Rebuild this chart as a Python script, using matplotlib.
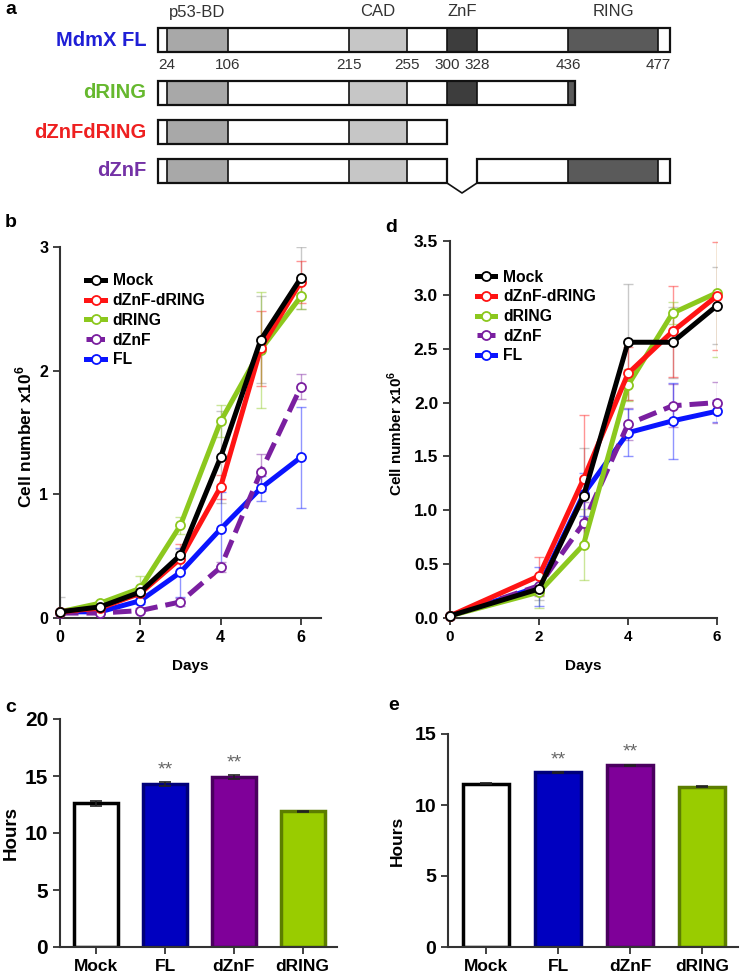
import numpy as np
import matplotlib
matplotlib.use('Agg')
from matplotlib import pyplot as plt
from matplotlib.patches import Rectangle

plt.rcParams['font.family'] = ['Liberation Sans', 'DejaVu Sans']
plt.rcParams['mathtext.fontset'] = 'custom'
plt.rcParams['mathtext.rm'] = 'Liberation Sans'
plt.rcParams['mathtext.bf'] = 'Liberation Sans:bold'

# ---- panel a: domain map ----
domain_names = ['p53-BD', 'CAD', 'ZnF', 'RING']
domain_res = [(24, 106), (215, 255), (300, 328), (436, 477)]
domain_fill = ['#a8a8a8', '#c6c6c6', '#3d3d3d', '#5a5a5a']
boundary_res = [24, 106, 215, 255, 300, 328, 436, 477]
construct_names = ['MdmX FL', 'dRING', 'dZnFdRING', 'dZnF']
construct_colors = ['#1f1fd6', '#66b82e', '#ee2020', '#7432a6']
construct_parts = [[(1, 490)], [(1, 439)], [(1, 300)], [(1, 300), (328, 490)]]
# the schematic is not to scale: residue -> drawing position
res_marks = [1, 24, 106, 215, 255, 300, 328, 436, 477, 490]
draw_marks = [158, 167, 228, 349, 407, 447, 477, 568, 658, 670]

# ---- panels b, d: growth curves ----
series_names = ['Mock', 'dZnF-dRING', 'dRING', 'dZnF', 'FL']
days_b = [0, 1, 2, 3, 4, 5, 6]
vals_b = [
    [0.05, 0.09, 0.21, 0.51, 1.30, 2.25, 2.75],
    [0.05, 0.08, 0.20, 0.48, 1.06, 2.18, 2.72],
    [0.05, 0.12, 0.24, 0.75, 1.59, 2.17, 2.60],
    [0.04, 0.04, 0.06, 0.13, 0.41, 1.18, 1.87],
    [0.05, 0.05, 0.14, 0.37, 0.72, 1.05, 1.30],
]
errs_b = [
    [0.12, 0.02, 0.03, 0.05, 0.37, 0.35, 0.25],
    [0.02, 0.02, 0.03, 0.12, 0.10, 0.30, 0.17],
    [0.02, 0.02, 0.10, 0.07, 0.13, 0.47, 0.10],
    [0.01, 0.01, 0.02, 0.03, 0.04, 0.15, 0.10],
    [0.01, 0.01, 0.03, 0.20, 0.30, 0.10, 0.41],
]
days_d = [0, 2, 3, 4, 5, 6]
vals_d = [
    [0.02, 0.27, 1.13, 2.56, 2.56, 2.90],
    [0.02, 0.39, 1.29, 2.27, 2.66, 2.99],
    [0.02, 0.24, 0.68, 2.16, 2.83, 3.02],
    [0.02, 0.30, 0.88, 1.80, 1.97, 2.00],
    [0.02, 0.29, 1.15, 1.72, 1.83, 1.92],
]
errs_d = [
    [0.01, 0.10, 0.45, 0.54, 0.33, 0.36],
    [0.01, 0.18, 0.59, 0.25, 0.42, 0.50],
    [0.01, 0.15, 0.33, 0.15, 0.10, 0.60],
    [0.01, 0.10, 0.20, 0.15, 0.20, 0.19],
    [0.01, 0.18, 0.20, 0.22, 0.35, 0.10],
]
line_colors = ['#000000', '#ff1414', '#8cc81e', '#7a1fa0', '#0a14ff']
line_styles = ['-', '-', '-', '--', '-']
line_z = [6, 5, 4, 3, 2]

# ---- panels c, e: doubling time ----
bar_names = ['Mock', 'FL', 'dZnF', 'dRING']
hours_c = [12.6, 14.3, 14.9, 11.9]
err_c = [0.2, 0.15, 0.2, 0.05]
hours_e = [11.5, 12.3, 12.8, 11.3]
err_e = [0.02, 0.03, 0.05, 0.05]
signif = ['', '**', '**', '']
bar_fill = ['white', '#0000c0', '#7f0099', '#99cc00']
bar_edge = ['#000000', '#00007a', '#4a005e', '#5c7d00']

W, H = 740, 976


def box(l, r, t, b):
    return [l / W, 1 - b / H, (r - l) / W, (b - t) / H]


def to_draw(res):
    return np.interp(res, res_marks, draw_marks)


def style_axes(ax, xsize, ysize):
    for s in ['top', 'right']:
        ax.spines[s].set_visible(False)
    for s in ['left', 'bottom']:
        ax.spines[s].set_linewidth(1.5)
        ax.spines[s].set_color('#333333')
    ax.tick_params(direction='out', length=5, width=1.3, color='#333333')
    ax.tick_params(axis='x', labelsize=xsize)
    ax.tick_params(axis='y', labelsize=ysize)
    for lab in ax.get_xticklabels() + ax.get_yticklabels():
        lab.set_fontweight('bold')


def draw_growth(ax, days, vals, errs, ymax, yticks, fmt, xmax, xsize, ysize, lsize, leg_y):
    lines = []
    for i in range(len(series_names)):
        c = line_colors[i]
        ecol = '#888888' if i == 0 else c
        ax.errorbar(days, vals[i], yerr=errs[i], fmt='none', ecolor=ecol, alpha=0.45,
                    elinewidth=1, capsize=3.5, capthick=1, zorder=1)
        ln, = ax.plot(days, vals[i], color=c, lw=3.6, ls=line_styles[i], marker='o',
                      mfc='white', mec=c, ms=6.5, mew=1.3, zorder=line_z[i], clip_on=False)
        lines.append(ln)
    ax.set_xlim(0, xmax)
    ax.set_ylim(0, ymax)
    ax.set_xticks([0, 2, 4, 6])
    ax.set_yticks(yticks)
    ax.set_yticklabels([fmt % v for v in yticks])
    style_axes(ax, xsize, ysize)
    ax.set_xlabel('Days', fontsize=11, fontweight='bold')
    ax.set_ylabel(r'Cell number x10$^{\mathbf{6}}$', fontsize=lsize, fontweight='bold')
    ax.legend(lines, series_names, loc='upper left', bbox_to_anchor=(0.07, leg_y),
              frameon=False, handlelength=1.2, labelspacing=0.3, handletextpad=0.5,
              borderpad=0, prop={'weight': 'bold', 'size': 11.3})


def draw_bars(ax, hours, err, ymax, step, star_gap, ysize, lsize):
    x = np.arange(len(bar_names))
    ax.bar(x, hours, width=0.64, color=bar_fill, edgecolor=bar_edge, linewidth=2.5,
           yerr=err, capsize=4, error_kw=dict(elinewidth=1.2, capthick=1.2, ecolor='#222222'),
           zorder=2)
    for i in range(len(x)):
        if signif[i]:
            ax.text(x[i], hours[i] + err[i] + star_gap, signif[i], ha='center', va='center',
                    fontsize=14, color='#666666')
    ax.set_xlim(-0.53, 3.5)
    ax.set_ylim(0, ymax)
    ax.set_yticks(np.arange(0, ymax + 0.1, step))
    ax.set_xticks(x)
    ax.set_xticklabels(bar_names)
    style_axes(ax, 12.5, ysize)
    ax.set_ylabel('Hours', fontsize=lsize, fontweight='bold')


fig = plt.figure(figsize=(W / 100, H / 100), dpi=100)

# panel a
axa = fig.add_axes([0, 1 - 200 / H, 1, 200 / H])
axa.set_xlim(0, W)
axa.set_ylim(200, 0)
axa.axis('off')
row_y = [40, 93, 132, 171]
half = 12
for r in range(len(construct_names)):
    y = row_y[r]
    for a, b in construct_parts[r]:
        xa, xb = to_draw(a), to_draw(b)
        axa.add_patch(Rectangle((xa, y - half), xb - xa, 2 * half, facecolor='white',
                                edgecolor='none', zorder=1))
        for (s, e), col in zip(domain_res, domain_fill):
            lo, hi = max(s, a), min(e, b)
            if hi > lo:
                axa.add_patch(Rectangle((to_draw(lo), y - half), to_draw(hi) - to_draw(lo),
                                        2 * half, facecolor=col, edgecolor='#111111',
                                        linewidth=1.2, zorder=2))
        axa.add_patch(Rectangle((xa, y - half), xb - xa, 2 * half, facecolor='none',
                                edgecolor='#111111', linewidth=1.6, zorder=3))
    if len(construct_parts[r]) > 1:
        g0 = to_draw(construct_parts[r][0][1])
        g1 = to_draw(construct_parts[r][1][0])
        axa.plot([g0, (g0 + g1) / 2, g1], [y + half, y + half + 10, y + half],
                 color='#111111', lw=1.2)
    axa.text(146, y, construct_names[r], ha='right', va='center', fontsize=14.5,
             fontweight='bold', color=construct_colors[r])
for (s, e), name in zip(domain_res, domain_names):
    axa.text((to_draw(s) + to_draw(e)) / 2, 12, name, ha='center', va='center',
             fontsize=12, color='#333333')
for res in boundary_res:
    axa.text(to_draw(res), 65, str(res), ha='center', va='center', fontsize=11,
             color='#333333')

# panel b
axb = fig.add_axes(box(60, 321, 247, 618))
draw_growth(axb, days_b, vals_b, errs_b, 3, [0, 1, 2, 3], '%d', 6.5, 11.5, 11.5, 12.5, 0.95)
axb.yaxis.set_label_coords(-0.10, 0.49)
axb.xaxis.set_label_coords(0.5, -0.11)

# panel d
axd = fig.add_axes(box(450, 717, 241, 618))
draw_growth(axd, days_d, vals_d, errs_d, 3.5, [0, 0.5, 1, 1.5, 2, 2.5, 3, 3.5], '%.1f', 6,
            11, 12.5, 11, 0.945)
axd.yaxis.set_label_coords(-0.17, 0.49)
axd.xaxis.set_label_coords(0.5, -0.11)

# panel c
axc = fig.add_axes(box(60, 337, 719, 947))
draw_bars(axc, hours_c, err_c, 20, 5, 1.05, 15, 13.5)
axc.yaxis.set_label_coords(-0.145, 0.5)

# panel e
axe = fig.add_axes(box(448, 738, 734, 947))
draw_bars(axe, hours_e, err_e, 15, 5, 0.85, 14, 12.5)
axe.yaxis.set_label_coords(-0.148, 0.5)

for lab, px, py in [('a', 5, 9), ('b', 5, 223), ('d', 385, 228), ('c', 5, 707), ('e', 388, 705)]:
    fig.text(px / W, 1 - py / H, lab, fontsize=14, fontweight='bold', va='center', ha='left')

fig.savefig('out.png', dpi=100)
